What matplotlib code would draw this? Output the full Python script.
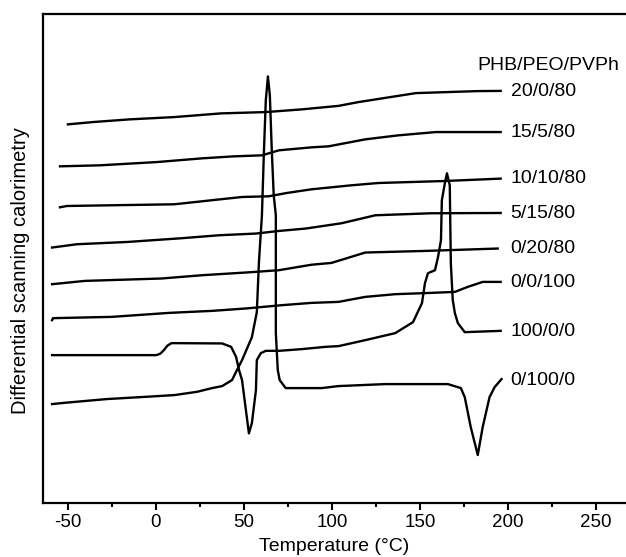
import numpy as np
import matplotlib.pyplot as plt
from matplotlib.ticker import MultipleLocator

plt.rcParams['font.family'] = ['Liberation Sans', 'DejaVu Sans']
plt.rcParams['axes.unicode_minus'] = False

# DSC traces, temperature (C) vs heat flow (a.u., endo up, curves offset)
t_20_0_80 = [-50, -35.9, -15.0, 10.5, 37.0, 62.4, 82.8, 103.7, 115.0, 147.7, 182.8, 195.8]
h_20_0_80 = [37.9, 38.13, 38.4, 38.63, 39.0, 39.13, 39.4, 39.75, 40.13, 41.03, 41.23, 41.25]

t_15_5_80 = [-54.5, -31.9, 0.8, 26.3, 44.4, 60.2, 69.8, 88.4, 98.0, 118.9, 137.6, 159.0, 195.8]
h_15_5_80 = [33.7, 33.8, 34.13, 34.5, 34.7, 34.8, 35.3, 35.6, 35.7, 36.4, 36.8, 37.13, 37.13]

t_10_10_80 = [-54.5, -50.6, 10.5, 31.4, 48.9, 64.1, 74.3, 88.4, 111.0, 126.3, 164.1, 195.8]
h_10_10_80 = [29.6, 29.73, 29.9, 30.3, 30.63, 30.7, 31.03, 31.4, 31.8, 32.03, 32.23, 32.47]

t_5_15_80 = [-59.0, -44.9, -16.1, 14.4, 35.9, 56.8, 69.8, 85.0, 105.4, 124.6, 156.2, 195.8]
h_5_15_80 = [25.57, 25.9, 26.13, 26.5, 26.8, 26.97, 27.23, 27.47, 28.0, 28.8, 29.0, 29.03]

t_0_20_80 = [-59.0, -40.4, 3.1, 26.3, 51.1, 69.8, 88.4, 99.7, 118.9, 152.8, 194.1]
h_0_20_80 = [21.9, 22.23, 22.47, 22.8, 23.07, 23.3, 23.85, 24.03, 25.07, 25.23, 25.47]

t_0_0_100 = [-59.0, -58.5, -25.1, 7.6, 31.9, 51.1, 71.5, 88.4, 103.7, 118.9, 135.9, 156.2, 169.8, 177.1, 185.6, 195.8]
h_0_0_100 = [18.3, 18.5, 18.63, 19.03, 19.23, 19.47, 19.8, 20.03, 20.13, 20.63, 20.9, 21.03, 21.13, 21.63, 22.13, 22.13]

t_100_0_0 = [-59.0, 0.3, 2.5, 4.5, 6.5, 8.8, 37.6, 42.7, 45.5, 47.2, 48.9, 52.8, 54.5, 56.8, 57.3, 59.6, 62.4,
             69.8, 82.8, 96.3, 103.7, 118.9, 135.9, 146.0, 151.1, 152.8, 154.5, 158.5, 160.2, 161.9,
             162.4, 164.1, 165.3, 166.9, 167.5, 168.6, 169.8, 171.5, 175.4, 195.8]
h_100_0_0 = [14.8, 14.8, 14.95, 15.3, 15.75, 16.0, 15.97, 15.63, 14.63, 13.3, 12.3, 6.97, 8.0, 11.3, 14.3, 15.0, 15.23,
             15.23, 15.4, 15.63, 15.7, 16.3, 17.0, 18.1, 20.0, 22.0, 23.0, 23.3, 24.6, 26.3,
             30.3, 32.0, 33.0, 31.8, 24.0, 20.3, 19.0, 18.0, 17.1, 17.23]

t_0_100_0 = [-59.0, -51.7, -28.0, -5.4, 10.5, 23.4, 31.9, 37.6, 43.2, 46.0, 48.9, 54.5, 57.3, 58.5,
             60.2, 61.3, 62.4, 63.6, 64.7, 65.8, 66.9, 68.1, 68.1, 69.2, 70.3, 73.7, 94.1, 103.7,
             130.2, 165.8, 173.2, 175.4, 178.8, 182.8, 185.6, 189.5, 192.4, 196.3]
h_0_100_0 = [9.9, 10.03, 10.4, 10.63, 10.8, 11.13, 11.5, 11.7, 12.3, 13.3, 14.3, 16.6, 19.1, 24.1,
             28.8, 35.0, 40.3, 42.7, 40.8, 35.3, 30.8, 28.8, 17.0, 13.3, 12.3, 11.5, 11.5, 11.7,
             11.9, 11.9, 11.5, 10.6, 7.6, 4.8, 7.6, 10.6, 11.6, 12.4]

curves = [(t_20_0_80, h_20_0_80), (t_15_5_80, h_15_5_80), (t_10_10_80, h_10_10_80),
          (t_5_15_80, h_5_15_80), (t_0_20_80, h_0_20_80), (t_0_0_100, h_0_0_100),
          (t_100_0_0, h_100_0_0), (t_0_100_0, h_0_100_0)]

labels = ['20/0/80', '15/5/80', '10/10/80', '5/15/80', '0/20/80', '0/0/100', '100/0/0', '0/100/0']
label_y = [41.2, 37.1, 32.5, 29.0, 25.5, 22.1, 17.2, 12.3]
label_x = 201.5
title_label = 'PHB/PEO/PVPh'

fig = plt.figure(figsize=(6.26, 5.57), dpi=100)
ax = fig.add_axes([0.068, 0.097, 0.932, 0.877])

for t, h in curves:
    ax.plot(t, h, color='black', lw=1.7)

for lab, yy in zip(labels, label_y):
    ax.text(label_x, yy, lab, fontsize=14, va='center', ha='left')
ax.text(182.8, 43.8, title_label, fontsize=14, va='center', ha='left')

ax.set_xlim(-64.4, 267)
ax.set_ylim(0, 48.9)
ax.xaxis.set_major_locator(MultipleLocator(50))
ax.xaxis.set_minor_locator(MultipleLocator(25))
ax.set_yticks([])
ax.tick_params(axis='x', which='major', direction='out', length=5, width=1.5, labelsize=13.5, pad=3)
ax.tick_params(axis='x', which='minor', direction='out', length=3, width=1.5)
ax.spines['right'].set_visible(False)
for s in ['left', 'top', 'bottom']:
    ax.spines[s].set_linewidth(1.6)

ax.set_xlabel('Temperature (°C)', fontsize=14, labelpad=5)
ax.set_ylabel('Differential scanning calorimetry', fontsize=14.5)
ax.yaxis.set_label_coords(-0.021, 0.476)

plt.savefig('out.png', dpi=100)
